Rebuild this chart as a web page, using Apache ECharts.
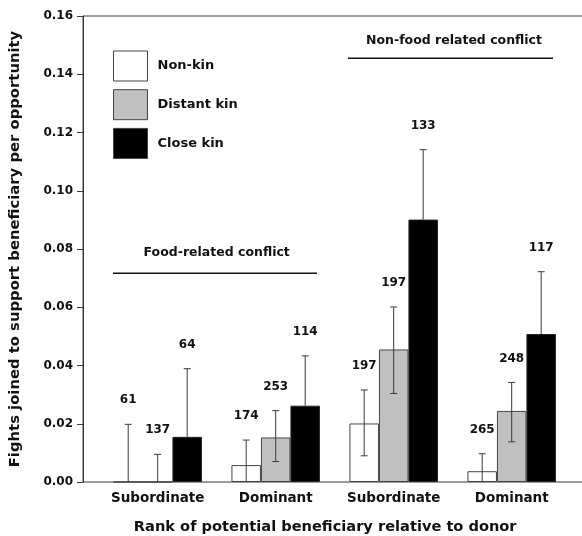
<!DOCTYPE html>
<html>
<head>
<meta charset="utf-8">
<script src="https://cdn.jsdelivr.net/npm/echarts@6/dist/echarts.min.js"></script>
<style>
  html, body { margin: 0; padding: 0; background: #fff; }
  #chart { width: 582px; height: 536px; }
</style>
</head>
<body>
<div id="chart"></div>
<script>
// data
var categories = ['Subordinate', 'Dominant', 'Subordinate', 'Dominant'];
var yTicks = [0, 0.02, 0.04, 0.06, 0.08, 0.10, 0.12, 0.14, 0.16];

var nonKin      = [0,      0.0058, 0.0201, 0.0037];
var distantKin  = [0,      0.0153, 0.0455, 0.0244];
var closeKin    = [0.0155, 0.0262, 0.0901, 0.0508];

var nonKinLow   = [0,      0,      0.0090, 0];
var nonKinHigh  = [0.0198, 0.0144, 0.0316, 0.0097];
var distantLow  = [0,      0.0070, 0.0304, 0.0138];
var distantHigh = [0.0095, 0.0245, 0.0601, 0.0342];
// lower whisker of close kin is hidden inside the black bar
var closeLow    = [0.0155, 0.0262, 0.0901, 0.0508];
var closeHigh   = [0.0389, 0.0433, 0.1141, 0.0722];

var nonKinN  = [61, 174, 197, 265];
var distantN = [137, 253, 197, 248];
var closeN   = [64, 114, 133, 117];

var FONT = 'DejaVu Sans';
var INK = '#111';
var LINE = '#3a3a3a';

// error bar + sample size, drawn through the axis scales
function errData(low, high, n) {
    var out = [];
    for (var i = 0; i < low.length; i++) {
        out.push([i, low[i], high[i], n[i]]);
    }
    return out;
}

function errRender(slot, lowCap) {
    return function (params, api) {
        var band = api.size([1, 0])[0];
        var dx = (slot - 1) * band * 0.25;
        var lo = api.coord([api.value(0), api.value(1)]);
        var hi = api.coord([api.value(0), api.value(2)]);
        var x = lo[0] + dx;
        var cap = 3.5;
        var kids = [
            { type: 'line', shape: { x1: x, y1: lo[1], x2: x, y2: hi[1] },
              style: { stroke: LINE, lineWidth: 1 } },
            { type: 'line', shape: { x1: x - cap, y1: hi[1], x2: x + cap, y2: hi[1] },
              style: { stroke: LINE, lineWidth: 1 } }
        ];
        if (lowCap && api.value(1) > 0) {
            kids.push({ type: 'line', shape: { x1: x - cap, y1: lo[1], x2: x + cap, y2: lo[1] },
                style: { stroke: LINE, lineWidth: 1 } });
        }
        kids.push({
            type: 'text',
            style: {
                x: x, y: hi[1] - 24,
                text: String(api.value(3)),
                align: 'center', verticalAlign: 'middle',
                font: 'bold 12px "' + FONT + '"',
                fill: INK
            }
        });
        return { type: 'group', children: kids };
    };
}

var chart = echarts.init(document.getElementById('chart'));

var option = {
    animation: false,
    backgroundColor: '#fff',
    legend: {
        orient: 'vertical',
        left: 113,
        top: 50.5,
        padding: 0,
        itemWidth: 34,
        itemHeight: 30,
        itemGap: 7.7,
        icon: 'rect',
        itemStyle: { borderColor: '#444', borderWidth: 1 },
        textStyle: { fontFamily: FONT, fontWeight: 'bold', fontSize: 13, color: INK, padding: [0, 0, 0, 5] },
        data: ['Non-kin', 'Distant kin', 'Close kin']
    },
    grid: [
        { left: 83, right: -10, top: 16, bottom: 54, show: true, borderColor: LINE, borderWidth: 1, outerBoundsMode: 'none', containLabel: false },
        { left: 98.7, width: 472, top: 16, bottom: 54, outerBoundsMode: 'none', containLabel: false }
    ],
    xAxis: [
        { gridIndex: 0, type: 'value', min: 0, max: 1, show: false },
        {
            gridIndex: 1,
            type: 'category',
            data: categories,
            axisLine: { show: false },
            axisTick: { show: false },
            axisLabel: { interval: 0, margin: 9, fontFamily: FONT, fontWeight: 'bold', fontSize: 13.5, color: INK },
            name: 'Rank of potential beneficiary relative to donor',
            nameLocation: 'middle',
            nameGap: 38,
            nameTextStyle: { fontFamily: FONT, fontWeight: 'bold', fontSize: 14.6, color: INK, padding: [0, 19, 0, 0] }
        }
    ],
    yAxis: [
        {
            gridIndex: 0,
            type: 'value',
            min: 0,
            max: 0.16,
            interval: 0.02,
            axisLine: { show: true, lineStyle: { color: LINE } },
            axisTick: { show: true, length: 6, lineStyle: { color: LINE } },
            splitLine: { show: false },
            axisLabel: {
                margin: 10,
                fontFamily: FONT, fontWeight: 'bold', fontSize: 12, color: INK,
                formatter: function (v) { return v.toFixed(2); }
            },
            name: 'Fights joined to support beneficiary per opportunity',
            nameLocation: 'middle',
            nameRotate: 90,
            nameGap: 60,
            nameTextStyle: { fontFamily: FONT, fontWeight: 'bold', fontSize: 14.8, color: INK }
        },
        { gridIndex: 1, type: 'value', min: 0, max: 0.16, show: false }
    ],
    series: [
        {
            name: 'Non-kin', type: 'bar', xAxisIndex: 1, yAxisIndex: 1,
            barWidth: '25%', barGap: '0%',
            itemStyle: { color: '#ffffff', borderColor: '#444', borderWidth: 1 },
            data: nonKin
        },
        {
            name: 'Distant kin', type: 'bar', xAxisIndex: 1, yAxisIndex: 1,
            barWidth: '25%', barGap: '0%',
            itemStyle: { color: '#c0c0c0', borderColor: '#444', borderWidth: 1 },
            data: distantKin
        },
        {
            name: 'Close kin', type: 'bar', xAxisIndex: 1, yAxisIndex: 1,
            barWidth: '25%', barGap: '0%',
            itemStyle: { color: '#000000', borderColor: '#222', borderWidth: 1 },
            data: closeKin
        },
        { type: 'custom', xAxisIndex: 1, yAxisIndex: 1, z: 5, clip: false,
          renderItem: errRender(0, true), data: errData(nonKinLow, nonKinHigh, nonKinN) },
        { type: 'custom', xAxisIndex: 1, yAxisIndex: 1, z: 5, clip: false,
          renderItem: errRender(1, true), data: errData(distantLow, distantHigh, distantN) },
        { type: 'custom', xAxisIndex: 1, yAxisIndex: 1, z: 5, clip: false,
          renderItem: errRender(2, false), data: errData(closeLow, closeHigh, closeN) }
    ],
    graphic: [
        // conflict type annotations
        { type: 'text', x: 216.7, y: 253, style: { text: 'Food-related conflict', font: 'bold 12.5px "' + FONT + '"', fill: INK, align: 'center', verticalAlign: 'middle' } },
        { type: 'line', shape: { x1: 113, y1: 273.3, x2: 317, y2: 273.3 }, style: { stroke: INK, lineWidth: 1.5 } },
        { type: 'text', x: 454, y: 40.7, style: { text: 'Non-food related conflict', font: 'bold 12.5px "' + FONT + '"', fill: INK, align: 'center', verticalAlign: 'middle' } },
        { type: 'line', shape: { x1: 348, y1: 58.3, x2: 553, y2: 58.3 }, style: { stroke: INK, lineWidth: 1.5 } }
    ]
};

chart.setOption(option);
</script>
</body>
</html>
